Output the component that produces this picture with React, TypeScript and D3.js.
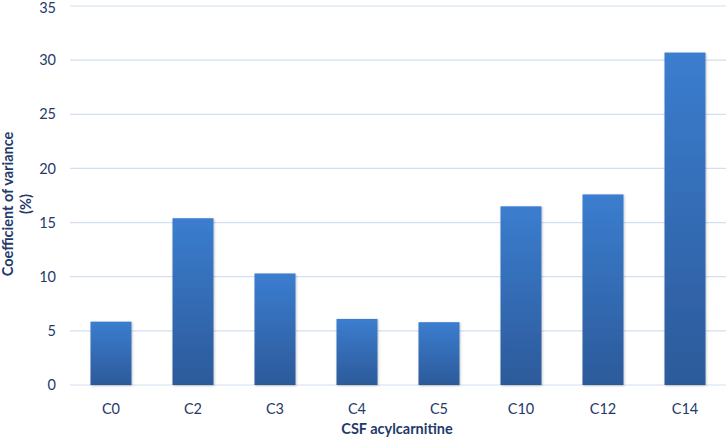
import React from "react";
import * as d3 from "d3";

const categories = ["C0", "C2", "C3", "C4", "C5", "C10", "C12", "C14"];
const values = [5.85, 15.4, 10.3, 6.1, 5.8, 16.5, 17.6, 30.7];
const yTicks = [0, 5, 10, 15, 20, 25, 30, 35];

const W = 726;
const H = 438;
const left = 70;
const right = 726;
const top = 6;
const bottom = 385;
const textColor = "#1F3A6B";
const font = "Lato, 'Open Sans', sans-serif";

export default function App() {
  const x = d3.scaleBand<string>().domain(categories).range([left, right]).paddingInner(0.5).paddingOuter(0.25);
  const y = d3.scaleLinear().domain([0, 35]).range([bottom, top]);
  return (
    <svg width={W} height={H} style={{ position: "absolute", left: 0, top: 0 }}>
      <defs>
        <linearGradient id="barGrad" x1="0" y1="0" x2="0" y2="1">
          <stop offset="0%" stopColor="#3B7DCF" />
          <stop offset="100%" stopColor="#2C5A9A" />
        </linearGradient>
        <filter id="shadow" x="-20%" y="-5%" width="140%" height="110%">
          <feDropShadow dx="0.8" dy="0.8" stdDeviation="1" floodColor="#000" floodOpacity="0.25" />
        </filter>
      </defs>
      <rect width={W} height={H} fill="#fff" />
      {yTicks.map((t) => (
        <g key={t}>
          <line x1={left} x2={right} y1={y(t)} y2={y(t)} stroke="#D3E0F2" strokeWidth={1.2} />
          <text x={56} y={Math.max(y(t), 8)} dy="0.35em" textAnchor="end" fontFamily={font} fontSize={14.5} fill={textColor}>
            {t}
          </text>
        </g>
      ))}
      {categories.map((c, i) => (
        <rect
          key={c}
          x={x(c)}
          y={y(values[i])}
          width={x.bandwidth()}
          height={bottom - y(values[i])}
          fill="url(#barGrad)"
          filter="url(#shadow)"
        />
      ))}
      {categories.map((c) => (
        <text
          key={c}
          x={(x(c) ?? 0) + x.bandwidth() / 2}
          y={409}
          dy="0.35em"
          textAnchor="middle"
          fontFamily={font}
          fontSize={14.5}
          fill={textColor}
        >
          {c}
        </text>
      ))}
      <text x={397} y={429} dy="0.35em" textAnchor="middle" fontFamily={font} fontSize={14.5} fontWeight="bold" fill={textColor}>
        CSF acylcarnitine
      </text>
      <g transform="translate(8,204) rotate(-90)">
        <text x={0} y={0} dy="0.35em" textAnchor="middle" fontFamily={font} fontSize={14.5} fontWeight="bold" fill={textColor}>
          Coefficient of variance
        </text>
        <text x={0} y={18} dy="0.35em" textAnchor="middle" fontFamily={font} fontSize={14.5} fontWeight="bold" fill={textColor}>
          (%)
        </text>
      </g>
    </svg>
  );
}
